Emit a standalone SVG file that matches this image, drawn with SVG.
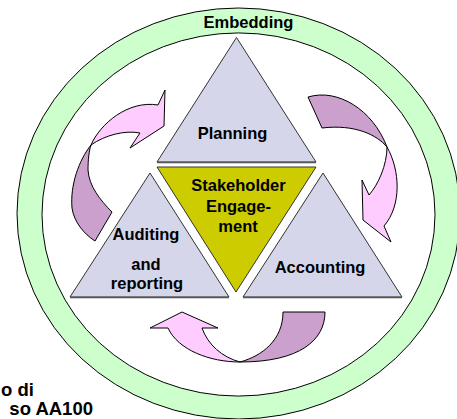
<svg xmlns="http://www.w3.org/2000/svg" width="457" height="419" viewBox="0 0 457 419">
<style>
.lbl{font-family:"Liberation Sans",Arial,sans-serif;font-weight:bold;font-size:16.5px;fill:#000;text-anchor:middle}
.big{font-family:"Liberation Sans",Arial,sans-serif;font-weight:bold;font-size:18.5px;fill:#000;text-anchor:end}
.tri{fill:#D6D6EA;stroke:#333;stroke-width:1;stroke-linejoin:miter}
.ctr{fill:#CCCC00;stroke:#333;stroke-width:1}
.ring{fill:#CCFFCC;stroke:#000;stroke-width:1;fill-rule:evenodd}
.dark{fill:#CCA0CC;stroke:#000;stroke-width:1;stroke-linejoin:miter}
.light{fill:#FFCCFF;stroke:#000;stroke-width:1;stroke-linejoin:miter}
.base{stroke:#555;stroke-width:1.5}
</style>
<rect width="457" height="419" fill="#fff"/>
<g id="embedding">
<path class="ring" d="M17,213.5 A221.5,205.5 0 1,0 460,213.5 A221.5,205.5 0 1,0 17,213.5 Z M42,214.5 A196.5,181.5 0 1,0 435,214.5 A196.5,181.5 0 1,0 42,214.5 Z"/>
<text class="lbl" x="248.5" y="27.5">Embedding</text>
</g>
<g id="connectors">
<path class="dark" d="M91,145 C79,160 70,185 72,208 C74,222 84,234 95,241 L112,212 C100,200 89,186 88,170 C88,160 89,151 91,145 Z"/>
<path class="light" d="M91,145 C100,124 128,100 158,105 L165,90 L164,126 L130,148 L140,133 C125,130 105,135 91,145 Z"/>
<path class="dark" d="M308,97 C338,88 373,110 387,147 C377,135 355,124 322,128 Z"/>
<path class="light" d="M387,147 C400,170 402,205 384,226 L391,242 L363,220 L362,180 L369,195 C378,185 387,165 387,147 Z"/>
<path class="dark" d="M283,312 L325,312 C325,340 300,362 240,362 C262,356 283,340 283,312 Z"/>
<path class="light" d="M240,362 C210,362 178,350 168,328 L150,328 L182,312 L218,328 L202,328 C208,345 222,357 240,362 Z"/>
</g>
<g id="planning">
<polygon class="tri" points="236.5,37.5 157,162 316,162"/>
<line class="base" x1="157" y1="162.5" x2="316" y2="162.5"/>
<text class="lbl" x="232.5" y="139">Planning</text>
</g>
<g id="stakeholder">
<polygon class="ctr" points="157,167 316,167 236,292"/>
<text class="lbl" x="238.5" y="191">Stakeholder</text>
<text class="lbl" x="238.5" y="211.5">Engage-</text>
<text class="lbl" x="238" y="232">ment</text>
</g>
<g id="auditing">
<polygon class="tri" points="150,173 70,297 229,297"/>
<line class="base" x1="70" y1="297.5" x2="229" y2="297.5"/>
<text class="lbl" x="146" y="240">Auditing</text>
<text class="lbl" x="146" y="270">and</text>
<text class="lbl" x="147" y="289">reporting</text>
</g>
<g id="accounting">
<polygon class="tri" points="323,173 243,297 402,297"/>
<line class="base" x1="243" y1="297.5" x2="402" y2="297.5"/>
<text class="lbl" x="320" y="272.5">Accounting</text>
</g>
<g id="caption">
<text class="big" x="34" y="395.5">o di</text>
<text class="big" x="93" y="414.5">so AA100</text>
</g>
</svg>
